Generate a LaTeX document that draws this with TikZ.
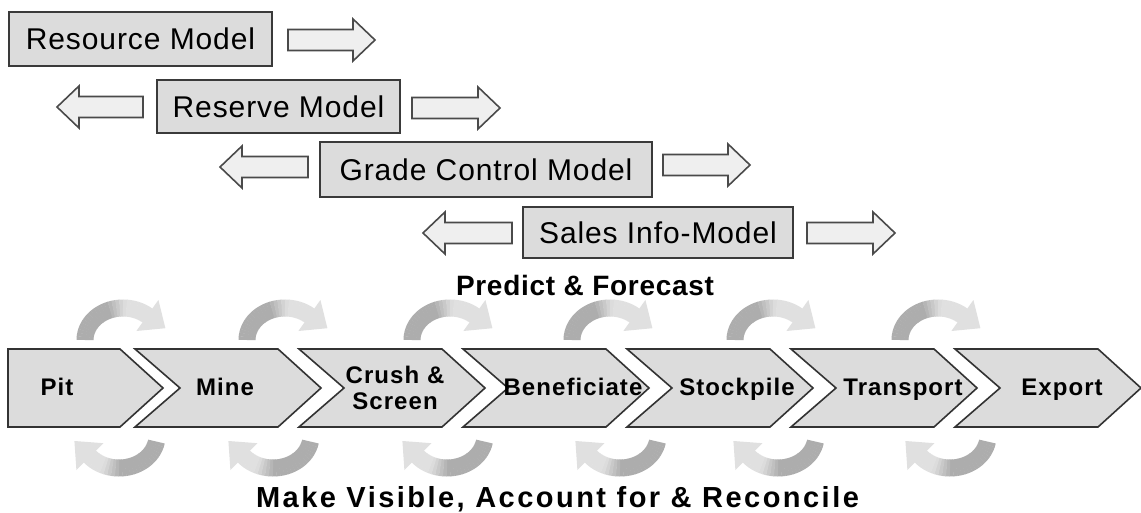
\documentclass[tikz,border=0pt]{standalone}
\usepackage{fontspec}
\setmainfont{Liberation Sans}
\usetikzlibrary{calc}
\definecolor{boxfill}{HTML}{DCDCDC}
\definecolor{boxline}{HTML}{3A3A3A}
\definecolor{arrfill}{HTML}{EFEFEF}
\definecolor{arrline}{HTML}{4A4A4A}
\definecolor{chevfill}{HTML}{DCDCDC}
\definecolor{chevline}{HTML}{333333}
\definecolor{cycdark}{HTML}{ADADAD}
\definecolor{cyclight}{HTML}{E0E0E0}
\tikzset{
  modelbox/.style={draw=boxline, fill=boxfill, line width=2pt, inner sep=0pt,
    font=\fontsize{30}{32}\selectfont\addfontfeatures{LetterSpace=3}},
  blockarr/.style={draw=arrline, fill=arrfill, line width=1.6pt, line join=miter},
  chevshape/.style={draw=chevline, fill=chevfill, line width=1.6pt, line join=miter},
  chevtext/.style={font=\fontsize{24}{26}\selectfont\bfseries\addfontfeatures{LetterSpace=4.5}, align=center, inner sep=0pt},
  headtext/.style={font=\fontsize{28}{30}\selectfont\bfseries\addfontfeatures{LetterSpace=2.5}, inner sep=0pt},
  foottext/.style={font=\fontsize{29}{31}\selectfont\bfseries\addfontfeatures{LetterSpace=8.5}, inner sep=0pt},
}
% right block arrow: tail x, tip x, y
\newcommand\rblk[3]{\draw[blockarr] (#1,#3-10.5) -- (#2-22,#3-10.5) -- (#2-22,#3-21) -- (#2,#3) -- (#2-22,#3+21) -- (#2-22,#3+10.5) -- (#1,#3+10.5) -- cycle;}
% left block arrow: tip x, tail x, y
\newcommand\lblk[3]{\draw[blockarr] (#2,#3-10.5) -- (#1+22,#3-10.5) -- (#1+22,#3-21) -- (#1,#3) -- (#1+22,#3+21) -- (#1+22,#3+10.5) -- (#2,#3+10.5) -- cycle;}
% chevron with notch, left x
\newcommand\chevpath[1]{\path[chevshape] (#1,349) -- (#1+143,349) -- (#1+186,388) -- (#1+143,427) -- (#1,427) -- (#1+45,388) -- cycle;}
% upper cycle arrow: centre x
\newcommand\ucyc[1]{%
  \foreach \a in {180,185,...,305}{%
    \pgfmathsetmacro\m{max(0,min(100,(272-\a)*100/27))}%
    \draw[color=cycdark!\m!cyclight, line width=17pt] plot[domain=\a:\a+5.6, samples=4] ({#1+38*cos(\x)},{340+32*sin(\x)});
  }%
  \fill[cyclight] (#1+13.4,331) -- (#1+35.4,300) -- (#1+42.4,328.2) -- cycle;
}
% lower cycle arrow: centre x
\newcommand\lcyc[1]{%
  \foreach \a in {10,15,...,135}{%
    \pgfmathsetmacro\m{max(0,min(100,(112-\a)*100/27))}%
    \draw[color=cycdark!\m!cyclight, line width=17pt] plot[domain=\a:\a+5.6, samples=4] ({#1+38*cos(\x)},{436+32*sin(\x)});
  }%
  \fill[cyclight] (#1-15.6,443.2) -- (#1-42.6,470) -- (#1-44.6,441) -- cycle;
}
\begin{document}
\begin{tikzpicture}[x=1pt,y=-1pt]
\useasboundingbox[fill=white] (0,0) rectangle (1141,513);
% model boxes
\node[modelbox, minimum width=263pt, minimum height=54pt] (res) at (140.5,39) {Resource Model};
\node[modelbox, minimum width=243pt, minimum height=53pt] (rsv) at (278.5,106.5) {Reserve Model};
\node[modelbox, minimum width=332pt, minimum height=55pt] (gc) at (486,169.5) {Grade Control Model};
\node[modelbox, minimum width=270pt, minimum height=51pt] (sal) at (658,232.5) {Sales Info-Model};
% block arrows
\rblk{288}{375}{40}
\lblk{57}{143}{107}
\rblk{412}{500}{108}
\lblk{220}{308}{167}
\rblk{663}{750}{165}
\lblk{423}{512}{233}
\rblk{807}{895}{233}
\node[headtext, anchor=base] (pf) at (585,295) {Predict \& Forecast};
% cycle arrows
\foreach \c in {123,285,450,610,773,938}{\ucyc{\c}}
\foreach \c in {119,273,447,620,778,950}{\lcyc{\c}}
% chevrons
\path[chevshape] (8,349) -- (120,349) -- (163,388) -- (120,427) -- (8,427) -- cycle;
\chevpath{135}
\chevpath{299}
\chevpath{463}
\chevpath{627}
\chevpath{791}
\chevpath{955}
\node[chevtext, anchor=base] (pit) at (57,395) {Pit};
\node[chevtext, anchor=base] (mine) at (225,395) {Mine};
\node[chevtext] (crush) at (395,388) {Crush \&\\Screen};
\node[chevtext, anchor=base] (ben) at (573,395) {Beneficiate};
\node[chevtext, anchor=base] (stock) at (737,395) {Stockpile};
\node[chevtext, anchor=base] (trans) at (903,395) {Transport};
\node[chevtext, anchor=base] (exp) at (1062,395) {Export};
\node[foottext, anchor=base] (mv) at (557.5,507) {Make Visible, Account for \& Reconcile};
\end{tikzpicture}
\end{document}
